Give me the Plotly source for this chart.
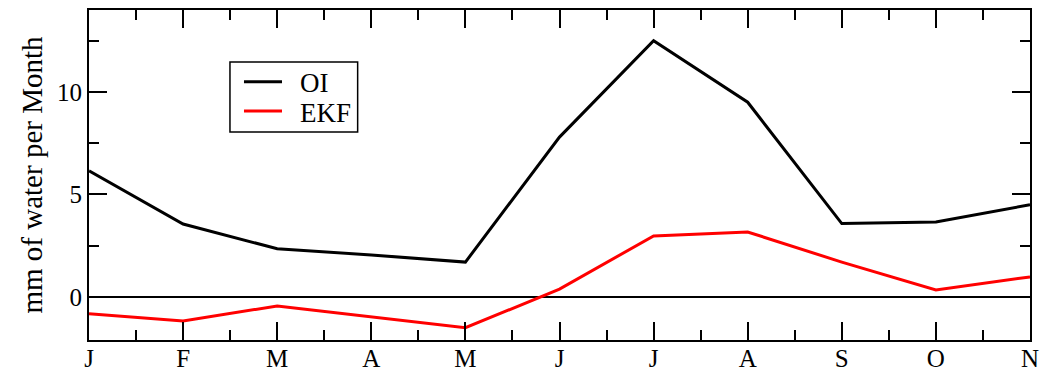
import plotly.graph_objects as go

months = ["J", "F", "M", "A", "M", "J", "J", "A", "S", "O", "N"]
oi = [6.15, 3.56, 2.35, 2.05, 1.7, 7.8, 12.5, 9.5, 3.58, 3.66, 4.5]
ekf = [-0.82, -1.17, -0.44, -0.98, -1.5, 0.38, 2.98, 3.17, 1.7, 0.34, 0.98]
y_ticks = [0, 5, 10]
series_names = ["OI", "EKF"]
series_colors = ["black", "red"]

x = list(range(len(months)))
FONT = "Liberation Serif"

fig = go.Figure()
for name, vals, col in zip(series_names, [oi, ekf], series_colors):
    fig.add_trace(go.Scatter(x=x, y=vals, mode="lines", name=name,
                             line=dict(color=col, width=3)))

# manual legend (paper coordinates)
fig.add_shape(type="rect", xref="paper", yref="paper",
              x0=0.1498, x1=0.2855, y0=0.6303, y1=0.8424,
              line=dict(color="black", width=1.5), fillcolor="white", layer="above")
for i, (name, col) in enumerate(zip(series_names, series_colors)):
    yy = 0.7827 - i * 0.0888
    fig.add_shape(type="line", xref="paper", yref="paper",
                  x0=0.1647, x1=0.2051, y0=yy, y1=yy,
                  line=dict(color=col, width=3), layer="above")
    fig.add_annotation(xref="paper", yref="paper", x=0.2224, y=yy - 0.005,
                       text=name, showarrow=False, xanchor="left", yanchor="middle",
                       font=dict(size=27, family=FONT, color="black"))

fig.update_layout(
    width=1046, height=371,
    margin=dict(l=89, r=16, t=10, b=31),
    plot_bgcolor="white", paper_bgcolor="white",
    font=dict(family=FONT, color="black", size=25),
    showlegend=False,
)
fig.update_xaxes(
    range=[0, 10], tickvals=x, ticktext=months, automargin=False,
    showline=True, linecolor="black", linewidth=2, mirror="ticks",
    ticks="inside", ticklen=18, tickwidth=2, tickcolor="black",
    minor=dict(dtick=0.5, ticks="inside", ticklen=10, tickwidth=2, tickcolor="black", showgrid=False),
    showgrid=False, zeroline=False, tickfont=dict(size=25, family=FONT),
    ticklabelstandoff=-5,
)
fig.update_yaxes(
    range=[-2.1, 14.0], tickvals=y_ticks, automargin=False,
    showline=True, linecolor="black", linewidth=2, mirror="ticks",
    ticks="inside", ticklen=18, tickwidth=2, tickcolor="black",
    minor=dict(dtick=2.5, tick0=0, ticks="inside", ticklen=10, tickwidth=2, tickcolor="black", showgrid=False),
    showgrid=False, zeroline=True, zerolinecolor="black", zerolinewidth=1.5,
    title=dict(text="mm of water per Month", font=dict(size=29, family=FONT), standoff=6),
    tickfont=dict(size=25, family=FONT),
)

fig.write_html("out.html")
